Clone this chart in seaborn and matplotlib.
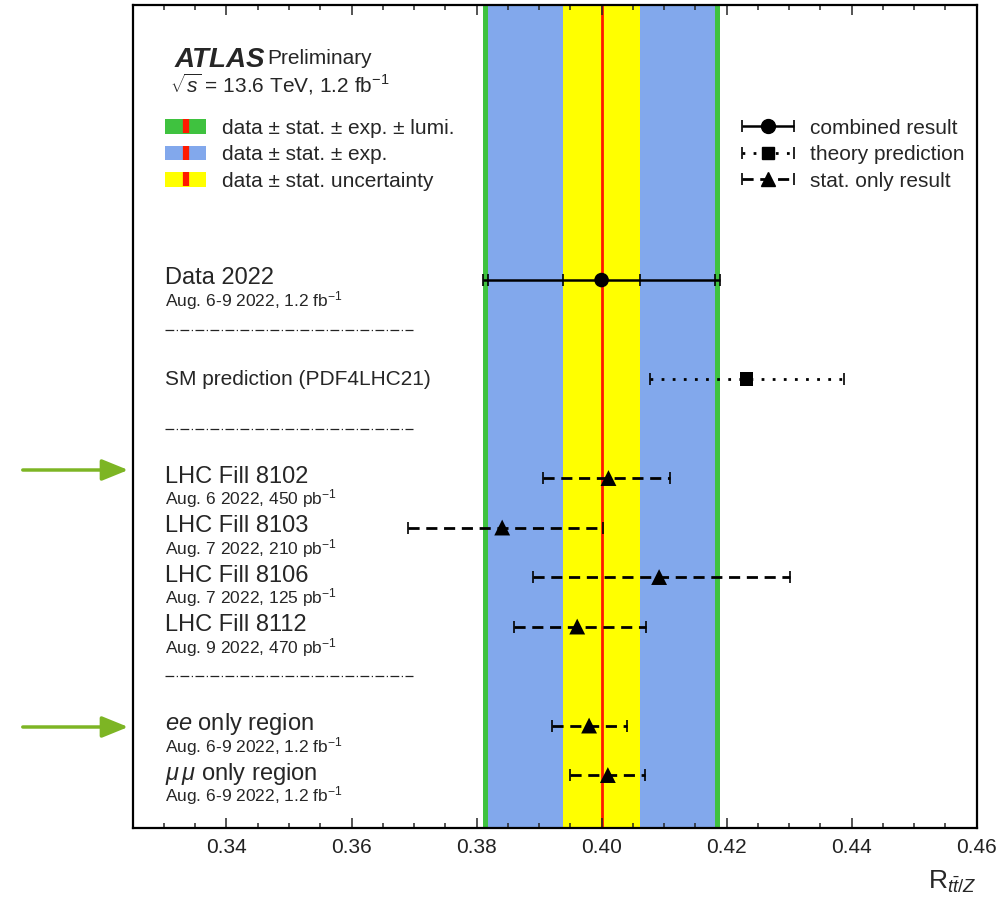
import matplotlib
matplotlib.use("Agg")
import matplotlib.pyplot as plt
from matplotlib.patches import Patch, FancyArrowPatch
from matplotlib.lines import Line2D
from matplotlib.container import ErrorbarContainer
from matplotlib.legend_handler import HandlerTuple, HandlerErrorbar
from matplotlib.ticker import MultipleLocator, FormatStrFormatter
import seaborn as sns
import pandas as pd

# resultado combinado (datos 2022)
r_data = 0.400
stat_err = 0.0062
exp_err = 0.0182
tot_err = 0.0189

# prediccion teorica
r_sm = 0.4232
sm_err = 0.0155

# resultados solo estadisticos
nombres = ["LHC Fill 8102", "LHC Fill 8103", "LHC Fill 8106", "LHC Fill 8112",
           "$ee$ only region", r"$\mu\,\mu$ only region"]
fechas = ["Aug. 6 2022, 450 pb$^{-1}$", "Aug. 7 2022, 210 pb$^{-1}$",
          "Aug. 7 2022, 125 pb$^{-1}$", "Aug. 9 2022, 470 pb$^{-1}$",
          "Aug. 6-9 2022, 1.2 fb$^{-1}$", "Aug. 6-9 2022, 1.2 fb$^{-1}$"]
valores = [0.4011, 0.3841, 0.4092, 0.3961, 0.3980, 0.4010]
bajo = [0.3907, 0.3691, 0.3891, 0.3860, 0.3920, 0.3950]
alto = [0.4110, 0.4002, 0.4301, 0.4071, 0.4041, 0.4070]
filas = [4, 5, 6, 7, 9, 10]

fila_data = 0
fila_sm = 2
separadores = [1, 3, 8]

verde = "#3fc23f"
azul = "#82a8ec"
amarillo = "#ffff00"
rojo = "#ff1a00"

sns.set_theme(style="ticks")
plt.rcParams["font.family"] = ["Liberation Sans", "DejaVu Sans"]
plt.rcParams["mathtext.fontset"] = "custom"
plt.rcParams["mathtext.rm"] = "Liberation Sans"
plt.rcParams["mathtext.it"] = "Liberation Sans:italic"
plt.rcParams["mathtext.bf"] = "Liberation Sans:bold"

fig = plt.figure(figsize=(10, 8.97), dpi=100)
ax = fig.add_axes([0.1327, 0.0769, 0.844, 0.9175])

# bandas
ax.axvspan(r_data - tot_err, r_data + tot_err, color=verde, lw=0, zorder=0)
ax.axvspan(r_data - exp_err, r_data + exp_err, color=azul, lw=0, zorder=0.1)
ax.axvspan(r_data - stat_err, r_data + stat_err, color=amarillo, lw=0, zorder=0.2)
ax.axvline(r_data, color=rojo, lw=2, zorder=0.3)

cap = 4.3

# resultado combinado
eb_comb = ax.errorbar([r_data], [fila_data], xerr=[tot_err], fmt="none",
                      ecolor="black", elinewidth=1.8, capsize=cap, capthick=1.2, zorder=3)
ax.errorbar([r_data], [fila_data], xerr=[exp_err], fmt="none",
            ecolor="black", elinewidth=0, capsize=cap, capthick=1.2, zorder=3)
ax.errorbar([r_data], [fila_data], xerr=[stat_err], fmt="none",
            ecolor="black", elinewidth=0, capsize=cap, capthick=1.2, zorder=3)

# prediccion
eb_sm = ax.errorbar([r_sm], [fila_sm], xerr=[sm_err], fmt="none",
                    ecolor="black", elinewidth=2, capsize=cap, capthick=1.2, zorder=3)
eb_sm[2][0].set_linestyle((0, (1, 3)))

# solo estadistico
err_bajo = [v - b for v, b in zip(valores, bajo)]
err_alto = [a - v for v, a in zip(valores, alto)]
eb_stat = ax.errorbar(valores, filas, xerr=[err_bajo, err_alto], fmt="none",
                      ecolor="black", elinewidth=2, capsize=cap, capthick=1.2, zorder=3)
eb_stat[2][0].set_linestyle((0, (4, 2.4)))

# marcadores
puntos = pd.DataFrame({
    "x": [r_data, r_sm] + valores,
    "y": [fila_data, fila_sm] + filas,
    "tipo": ["comb", "teo"] + ["stat"] * len(valores),
})
sns.scatterplot(data=puntos[puntos.tipo == "comb"], x="x", y="y", marker="o",
                s=110, color="black", edgecolor="none", ax=ax, zorder=4)
sns.scatterplot(data=puntos[puntos.tipo == "teo"], x="x", y="y", marker="s",
                s=90, color="black", edgecolor="none", ax=ax, zorder=4)
sns.scatterplot(data=puntos[puntos.tipo == "stat"], x="x", y="y", marker="^",
                s=130, color="black", edgecolor="none", ax=ax, zorder=4)

# etiquetas
x_txt = 0.3301
ax.text(x_txt, fila_data - 0.05, "Data 2022", fontsize=17, va="center")
ax.text(x_txt, fila_data + 0.42, "Aug. 6-9 2022, 1.2 fb$^{-1}$", fontsize=12.5, va="center")
ax.text(x_txt, fila_sm, "SM prediction (PDF4LHC21)", fontsize=15, va="center")
for n, f, y in zip(nombres, fechas, filas):
    ax.text(x_txt, y - 0.03, n, fontsize=17, va="center")
    ax.text(x_txt, y + 0.42, f, fontsize=12.5, va="center")
for y in separadores:
    ax.plot([0.3301, 0.3698], [y, y], color="#222222", lw=0.9,
            linestyle=(0, (7, 2, 1, 2)), zorder=2)

ax.text(0.050, 0.933, "ATLAS", transform=ax.transAxes, fontsize=20,
        fontweight="bold", fontstyle="italic", va="center")
ax.text(0.159, 0.935, "Preliminary", transform=ax.transAxes, fontsize=15, va="center")
ax.text(0.044, 0.903, r"$\sqrt{s}$ = 13.6 TeV, 1.2 fb$^{-1}$", transform=ax.transAxes,
        fontsize=15, va="center")

# leyendas
hb = []
for c in [verde, azul, amarillo]:
    hb.append((Patch(facecolor=c, edgecolor="none"),
               Line2D([], [], color=rojo, marker="|", linestyle="none",
                      markersize=10, markeredgewidth=4.5)))
leg1 = ax.legend(hb, ["data ± stat. ± exp. ± lumi.", "data ± stat. ± exp.",
                      "data ± stat. uncertainty"],
                 handler_map={tuple: HandlerTuple(ndivide=1)},
                 loc="upper left", bbox_to_anchor=(0.0385, 0.862), frameon=False,
                 fontsize=15, handlelength=1.95, handleheight=0.7,
                 handletextpad=0.8, labelspacing=0.36, borderpad=0, borderaxespad=0)
ax.add_artist(leg1)

m_comb = Line2D([], [], color="black", marker="o", linestyle="none", markersize=10)
m_teo = Line2D([], [], color="black", marker="s", linestyle="none", markersize=9)
m_stat = Line2D([], [], color="black", marker="^", linestyle="none", markersize=10)
ax.legend([(eb_comb, m_comb), (eb_sm, m_teo), (eb_stat, m_stat)],
          ["combined result", "theory prediction", "stat. only result"],
          handler_map={tuple: HandlerTuple(ndivide=1),
                       ErrorbarContainer: HandlerErrorbar(xerr_size=1.25)},
          loc="upper left", bbox_to_anchor=(0.7196, 0.862), frameon=False,
          fontsize=15, handlelength=2.65, handletextpad=0.7, labelspacing=0.36,
          borderpad=0, borderaxespad=0)

# ejes
ax.set_xlim(0.325, 0.46)
ax.set_ylim(11.07, -5.556)
ax.set_yticks([])
ax.set_ylabel("")
ax.xaxis.set_major_locator(MultipleLocator(0.02))
ax.xaxis.set_minor_locator(MultipleLocator(0.005))
ax.xaxis.set_major_formatter(FormatStrFormatter("%.2f"))
ax.tick_params(axis="x", which="both", direction="in", top=True, labelsize=15,
               labelcolor="#222222", width=1.1)
ax.tick_params(axis="x", which="major", length=7, pad=7)
ax.tick_params(axis="x", which="minor", length=3.5)
for s in ax.spines.values():
    s.set_visible(True)
    s.set_linewidth(1.6)
    s.set_color("black")
ax.set_xlabel(r"R$_{t\bar{t}/Z}$", fontsize=19, loc="right", labelpad=9)

# flechas
for yf in [1 - 470 / 897, 1 - 727 / 897]:
    fig.add_artist(FancyArrowPatch(
        (0.02, yf), (0.131, yf), transform=fig.transFigure,
        arrowstyle="-|>,head_length=1.6,head_width=0.65", mutation_scale=10,
        color="#7db524", lw=2.5))

plt.savefig("out.png", dpi=100)
